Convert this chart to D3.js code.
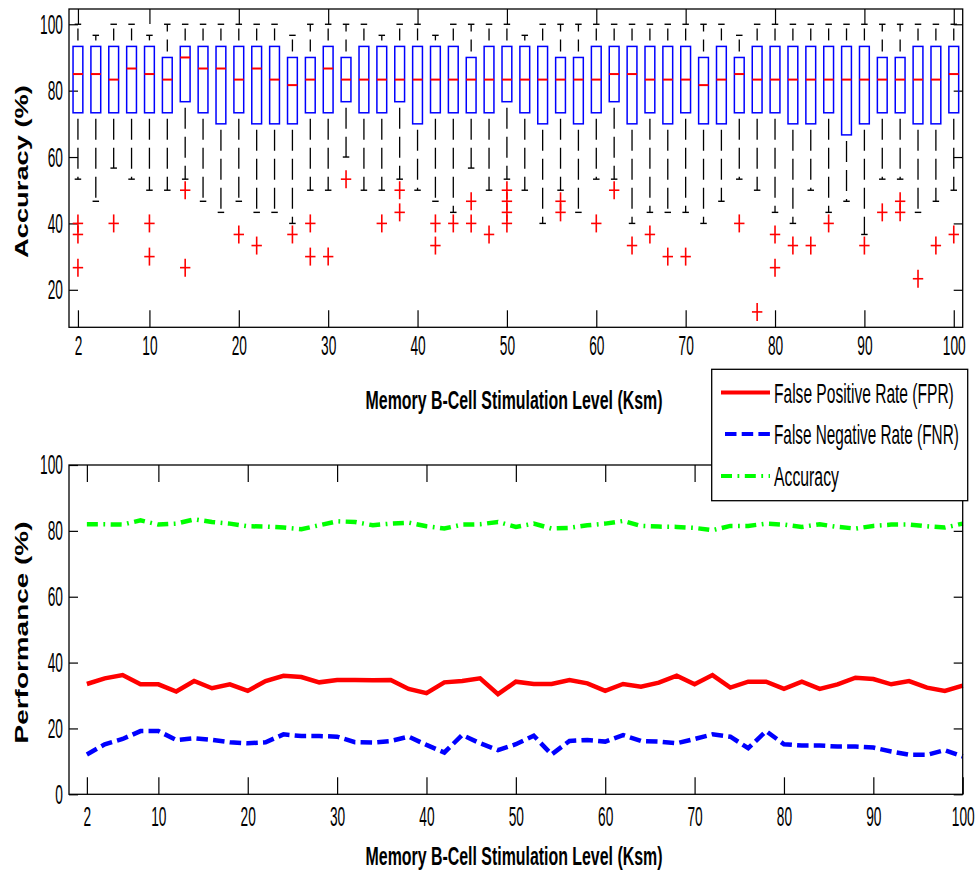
<!DOCTYPE html>
<html><head><meta charset="utf-8">
<script src="https://cdn.jsdelivr.net/npm/d3@7/dist/d3.min.js"></script>
<style>
body{margin:0;background:#fff}
svg{display:block}
text{font-family:Arial,"Liberation Sans",Helvetica,sans-serif;fill:#000}
</style>
</head><body>
<svg id="chart" width="979" height="873"></svg>
<script>
// ---------------- DATA ----------------
const ksm = [2,4,6,8,10,12,14,16,18,20,22,24,26,28,30,32,34,36,38,40,42,44,46,48,50,
             52,54,56,58,60,62,64,66,68,70,72,74,76,78,80,82,84,86,88,90,92,94,96,98,100];
const xTickValues = [2,10,20,30,40,50,60,70,80,90,100];
const accTicks = [20,40,60,80,100];
const perfTicks = [0,20,40,60,80,100];

// box plot statistics (Accuracy %, per Ksm)
const boxQ3 = [93.33,93.33,93.33,93.33,93.33,90,93.33,93.33,93.33,93.33,93.33,93.33,90,90,93.33,90,93.33,93.33,93.33,93.33,93.33,93.33,90,93.33,93.33,
               93.33,93.33,90,90,93.33,93.33,93.33,93.33,93.33,93.33,90,93.33,90,93.33,93.33,93.33,93.33,93.33,93.33,93.33,90,90,93.33,93.33,93.33];
const boxQ1 = [73.33,73.33,73.33,73.33,73.33,73.33,76.67,73.33,70,73.33,70,70,70,73.33,73.33,76.67,73.33,73.33,76.67,70,73.33,73.33,73.33,73.33,76.67,
               73.33,70,73.33,70,73.33,76.67,70,73.33,70,73.33,70,70,73.33,73.33,73.33,70,70,73.33,66.67,70,73.33,73.33,70,70,73.33];
const boxMedian = [85,85,83.33,86.67,85,83.33,90,86.67,86.67,83.33,86.67,83.33,81.67,83.33,86.67,83.33,83.33,83.33,83.33,83.33,83.33,83.33,83.33,83.33,83.33,
                   83.33,83.33,83.33,83.33,83.33,85,85,83.33,83.33,83.33,81.67,83.33,85,83.33,83.33,83.33,83.33,83.33,83.33,83.33,83.33,83.33,83.33,83.33,85];
const whiskerHigh = [100,96.67,100,100,96.67,100,100,100,100,100,100,100,96.67,100,100,100,100,96.67,100,100,96.67,100,100,100,100,
                     96.67,100,100,100,100,100,100,100,100,100,100,100,96.67,100,100,100,100,100,100,100,100,100,100,100,100];
const whiskerLow = [53.33,46.67,56.67,53.33,50,50,53.33,46.67,43.33,46.67,43.33,43.33,40,50,50,60,50,50,53.33,50,46.67,43.33,56.67,50,53.33,
                    50,40,50,43.33,53.33,53.33,40,43.33,43.33,43.33,40,46.67,53.33,50,43.33,40,50,43.33,46.67,36.67,53.33,53.33,43.33,46.67,50];
const outliers = [[40,36.67,26.67],[],[40],[],[40,30],[],[50,26.67],[],[],[36.67],[33.33],[],[36.67],[40,30],[30],
                  [53.33],[],[40],[50,43.33],[],[40,33.33],[40],[46.67,40],[36.67],[50,46.67,43.33,40],
                  [],[],[46.67,43.33],[],[40],[50],[33.33],[36.67],[30],[30],[],[],[40],[13.33],[36.67,26.67],
                  [33.33],[33.33],[40],[],[33.33],[43.33],[46.67,43.33],[23.33],[33.33],[36.67]];

// performance series (%, per Ksm)
const fpr = [33.5,35.2,36.2,33.4,33.4,31.2,34.4,32.2,33.4,31.4,34.4,36.0,35.6,34.0,34.7,34.7,34.6,34.7,32.0,30.7,34.0,34.4,35.2,30.4,34.2,
             33.5,33.5,34.7,33.7,31.4,33.5,32.7,33.9,36.0,33.4,36.2,32.4,34.2,34.2,32.0,34.2,32.0,33.4,35.4,35.0,33.4,34.4,32.4,31.4,33.0];
const fnr = [12.1,15.2,16.8,19.2,19.2,16.5,17.0,16.5,15.8,15.5,15.8,18.2,17.7,17.7,17.5,15.8,15.7,16.2,17.5,15.0,12.7,18.0,15.5,13.4,15.2,
             17.8,12.1,16.2,16.5,16.0,18.0,16.2,16.0,15.5,16.8,18.2,17.5,14.0,19.2,15.2,14.8,14.8,14.5,14.5,14.2,13.0,12.0,12.0,13.4,11.5];
const acc = [82.0,82.0,81.9,83.2,81.9,82.2,83.5,82.7,82.2,81.4,81.3,81.0,80.5,81.7,82.9,82.7,81.7,82.2,82.5,81.4,80.7,81.9,82.0,82.7,81.2,
             82.2,80.7,80.9,81.7,82.2,83.0,81.5,81.3,81.2,80.9,80.2,81.5,81.5,82.2,81.9,81.2,82.0,81.2,80.7,81.5,81.9,81.9,81.4,81.0,82.2];
const seriesNames = ["False Positive Rate (FPR)","False Negative Rate (FNR)","Accuracy"];

// ---------------- LAYOUT ----------------
const svg = d3.select("#chart");
const L = 69, R = 962.7;
const T1 = 9, B1 = 327.3, T2 = 465, B2 = 794.3;
const SX = 0.49;       // horizontal squeeze of tick labels
const FS = 28;

function styleTicks(g, anchorPad, side){
  g.select(".domain").remove();
  g.selectAll(".tick line").attr("stroke","#000").attr("stroke-width",1.2);
  g.selectAll(".tick text").attr("font-size",FS).attr("fill","#000")
    .attr("transform",`scale(${SX},1)`);
  if(side==="left") g.selectAll(".tick text").attr("x", -anchorPad/SX);
}
// text squeezed to a given length along its run
function fitText(parent, o){
  const g = parent.append("g")
    .attr("transform",`translate(${o.x},${o.y})` + (o.rotate ? ` rotate(${o.rotate})` : ""));
  const t = g.append("text").attr("font-size",o.size).attr("font-weight",o.weight||"normal")
    .attr("text-anchor",o.anchor||"start").text(o.text);
  const w = t.node().getComputedTextLength();
  t.attr("transform",`scale(${o.len/w},1)`);
  return t;
}

// ---------------- TOP PANEL (box plot) ----------------
const xb = d3.scalePoint().domain(ksm).range([L,R]).padding(0.5);
const yb = d3.scaleLinear().domain([8.7,104.6]).range([B1,T1]);
const topG = svg.append("g");

topG.append("g").attr("transform",`translate(0,${B1})`)
  .call(d3.axisBottom(xb).tickValues(xTickValues).tickSizeInner(-17).tickSizeOuter(0).tickPadding(8))
  .call(g=>styleTicks(g));
topG.append("g").attr("transform",`translate(0,${T1})`)
  .call(d3.axisTop(xb).tickValues(xTickValues).tickSizeInner(-15).tickSizeOuter(0).tickFormat(""))
  .call(g=>styleTicks(g));
topG.append("g").attr("transform",`translate(${L},0)`)
  .call(d3.axisLeft(yb).tickValues(accTicks).tickSizeInner(-9).tickSizeOuter(0).tickPadding(6))
  .call(g=>styleTicks(g,6,"left"));
topG.append("g").attr("transform",`translate(${R},0)`)
  .call(d3.axisRight(yb).tickValues(accTicks).tickSizeInner(-9).tickSizeOuter(0).tickFormat(""))
  .call(g=>styleTicks(g));

const bw = 9.8, cw = 6.5;
const boxes = topG.append("g").selectAll("g").data(ksm).join("g");
// whiskers
boxes.append("line").attr("x1",d=>xb(d)).attr("x2",d=>xb(d))
  .attr("y1",(d,i)=>yb(boxQ1[i])).attr("y2",(d,i)=>yb(whiskerLow[i]))
  .attr("stroke","#000").attr("stroke-width",1.3).attr("stroke-dasharray","21,8").attr("stroke-dashoffset",23);
boxes.append("line").attr("x1",d=>xb(d)).attr("x2",d=>xb(d))
  .attr("y1",(d,i)=>yb(boxQ3[i])).attr("y2",(d,i)=>yb(whiskerHigh[i]))
  .attr("stroke","#000").attr("stroke-width",1.3).attr("stroke-dasharray","12,8").attr("stroke-dashoffset",14);
// caps
boxes.append("line").attr("x1",d=>xb(d)-cw/2).attr("x2",d=>xb(d)+cw/2)
  .attr("y1",(d,i)=>yb(whiskerLow[i])).attr("y2",(d,i)=>yb(whiskerLow[i]))
  .attr("stroke","#000").attr("stroke-width",1.4);
boxes.append("line").attr("x1",d=>xb(d)-cw/2).attr("x2",d=>xb(d)+cw/2)
  .attr("y1",(d,i)=>yb(whiskerHigh[i])).attr("y2",(d,i)=>yb(whiskerHigh[i]))
  .attr("stroke","#000").attr("stroke-width",1.4);
// boxes
boxes.append("rect").attr("x",d=>xb(d)-bw/2).attr("width",bw)
  .attr("y",(d,i)=>yb(boxQ3[i])).attr("height",(d,i)=>yb(boxQ1[i])-yb(boxQ3[i]))
  .attr("fill","none").attr("stroke","#0000ff").attr("stroke-width",1.5);
// medians
boxes.append("line").attr("x1",d=>xb(d)-bw/2).attr("x2",d=>xb(d)+bw/2)
  .attr("y1",(d,i)=>yb(boxMedian[i])).attr("y2",(d,i)=>yb(boxMedian[i]))
  .attr("stroke","#ff0000").attr("stroke-width",2);
// outliers
boxes.each(function(d,i){
  const g = d3.select(this);
  outliers[i].forEach(v=>{
    const cx = xb(d), cy = yb(v);
    g.append("line").attr("x1",cx-5.2).attr("x2",cx+5.2).attr("y1",cy).attr("y2",cy)
      .attr("stroke","#ff0000").attr("stroke-width",1.6);
    g.append("line").attr("x1",cx).attr("x2",cx).attr("y1",cy-9).attr("y2",cy+9)
      .attr("stroke","#ff0000").attr("stroke-width",1.6);
  });
});
topG.append("rect").attr("x",L).attr("y",T1).attr("width",R-L).attr("height",B1-T1)
  .attr("fill","none").attr("stroke","#000").attr("stroke-width",1.3);

fitText(topG,{x:28,y:171.5,rotate:-90,anchor:"middle",weight:"bold",size:18,len:173,text:"Accuracy (%)"});
fitText(topG,{x:514,y:409,anchor:"middle",weight:"bold",size:26,len:297,text:"Memory B-Cell Stimulation Level (Ksm)"});

// ---------------- BOTTOM PANEL (lines) ----------------
const xl = d3.scaleLinear().domain([0,100]).range([L,R]);
const yl = d3.scaleLinear().domain([0,100]).range([B2,T2]);
const botG = svg.append("g");

botG.append("g").attr("transform",`translate(0,${B2})`)
  .call(d3.axisBottom(xl).tickValues(xTickValues).tickSizeInner(-17).tickSizeOuter(0).tickPadding(12))
  .call(g=>styleTicks(g));
botG.append("g").attr("transform",`translate(0,${T2})`)
  .call(d3.axisTop(xl).tickValues(xTickValues).tickSizeInner(-17).tickSizeOuter(0).tickFormat(""))
  .call(g=>styleTicks(g));
botG.append("g").attr("transform",`translate(${L},0)`)
  .call(d3.axisLeft(yl).tickValues(perfTicks).tickSizeInner(-9).tickSizeOuter(0).tickPadding(6))
  .call(g=>styleTicks(g,6,"left"));
botG.append("g").attr("transform",`translate(${R},0)`)
  .call(d3.axisRight(yl).tickValues(perfTicks).tickSizeInner(-9).tickSizeOuter(0).tickFormat(""))
  .call(g=>styleTicks(g));

const series = [
  {vals:fpr, color:"#ff0000", dash:null},
  {vals:fnr, color:"#0000ff", dash:"11.5,5.2"},
  {vals:acc, color:"#00ff00", dash:"11,5.5,1.8,5.5"}
];
const line = d3.line().x(d=>xl(d[0])).y(d=>yl(d[1]));
series.forEach(s=>{
  botG.append("path").datum(ksm.map((k,i)=>[k,s.vals[i]]))
    .attr("d",line).attr("fill","none").attr("stroke",s.color).attr("stroke-width",4.5)
    .attr("stroke-linejoin","miter").attr("stroke-dasharray",s.dash);
});
botG.append("rect").attr("x",L).attr("y",T2).attr("width",R-L).attr("height",B2-T2)
  .attr("fill","none").attr("stroke","#000").attr("stroke-width",1.3);

fitText(botG,{x:28,y:632.5,rotate:-90,anchor:"middle",weight:"bold",size:18,len:222,text:"Performance (%)"});
fitText(botG,{x:514,y:865,anchor:"middle",weight:"bold",size:26,len:297,text:"Memory B-Cell Stimulation Level (Ksm)"});

// ---------------- LEGEND ----------------
const lg = svg.append("g");
lg.append("rect").attr("x",711.7).attr("y",369.3).attr("width",256).attr("height",131.4)
  .attr("fill","#fff").attr("stroke","#000").attr("stroke-width",1.3);
const legY = [392.5,434,476];
const legLen = [180,185,65];
series.forEach((s,i)=>{
  lg.append("line").attr("x1",i===1?725:721).attr("x2",770).attr("y1",legY[i]).attr("y2",legY[i])
    .attr("stroke",s.color).attr("stroke-width",4).attr("stroke-dasharray",s.dash);
  fitText(lg,{x:774,y:legY[i]+10,size:27,len:legLen[i],text:seriesNames[i]});
});
</script>
</body></html>
